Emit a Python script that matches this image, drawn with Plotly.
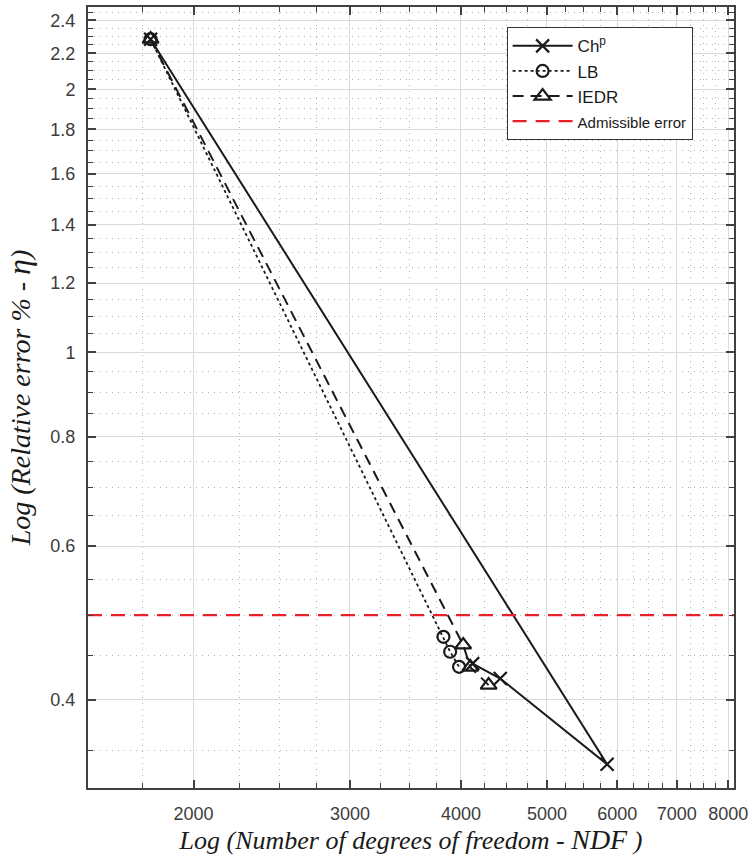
import plotly.graph_objects as go
import numpy as np

# ---- data ----
chp_ndf = [1789, 5844, 4430, 4124]
chp_err = [2.283, 0.3374, 0.4231, 0.440]

lb_ndf = [1789, 3823, 3890, 3981]
lb_err = [2.283, 0.4722, 0.4540, 0.4363]

iedr_ndf = [1789, 4024, 4099, 4298]
iedr_err = [2.283, 0.4622, 0.4360, 0.4158]

admissible_error = 0.5

x_ticks = [2000, 3000, 4000, 5000, 6000, 7000, 8000]
y_ticks = [0.4, 0.6, 0.8, 1, 1.2, 1.4, 1.6, 1.8, 2, 2.2, 2.4]

x_range = [1521, 8121]
y_range = [0.317, 2.485]

ink = "#1a1a1a"
axis_col = "#404040"

fig = go.Figure()
fig.add_trace(go.Scatter(
    x=chp_ndf, y=chp_err, name="Ch<sup>p</sup>", mode="lines+markers",
    line=dict(color=ink, width=2, dash="solid"),
    marker=dict(symbol="x-thin-open", size=13, line=dict(color=ink, width=2.2))))
fig.add_trace(go.Scatter(
    x=lb_ndf, y=lb_err, name="LB", mode="lines+markers",
    line=dict(color=ink, width=1.8, dash="dot"),
    marker=dict(symbol="circle-open", size=12, line=dict(color=ink, width=2.2))))
fig.add_trace(go.Scatter(
    x=iedr_ndf, y=iedr_err, name="IEDR", mode="lines+markers",
    line=dict(color=ink, width=2, dash="11px,7px"),
    marker=dict(symbol="triangle-up-open", size=14, line=dict(color=ink, width=2.2))))
fig.add_trace(go.Scatter(
    x=x_range, y=[admissible_error, admissible_error],
    name='<span style="font-size:15px">Admissible error</span>', mode="lines",
    line=dict(color="#e8202a", width=2.2, dash="14px,9px")))

tickfont = dict(family="Liberation Sans, Arial", size=18, color="#3c3c3c")
title_font = dict(family="Liberation Serif, Times New Roman", size=26, color=ink)

common = dict(
    type="log", showline=True, linecolor=axis_col, linewidth=2, mirror="allticks",
    ticks="inside", ticklen=8, tickcolor=axis_col, tickwidth=1.5,
    showgrid=True, gridcolor="#dadada", gridwidth=1, zeroline=False,
    tickfont=tickfont,
)

minor_common = dict(ticks="inside", ticklen=5, tickcolor=axis_col, tickwidth=1,
                    showgrid=True, gridcolor="#b4b4b4", griddash="1px,5px", gridwidth=1)

fig.update_xaxes(
    **common,
    range=[np.log10(x_range[0]), np.log10(x_range[1])],
    tickvals=x_ticks, ticktext=[str(v) for v in x_ticks],
    ticklabelstandoff=8,
    minor=dict(dtick="L250", tick0=0, **minor_common),
    title=dict(text="<i>Log (Number of degrees of freedom - </i><i><span style=\"font-size:28px\">NDF</span> )</i>",
               font=title_font, standoff=8),
)
fig.update_yaxes(
    **common,
    range=[np.log10(y_range[0]), np.log10(y_range[1])],
    tickvals=y_ticks, ticktext=[f"{v:g}" for v in y_ticks],
    ticklabelstandoff=7,
    minor=dict(dtick="L0.05", tick0=0, **minor_common),
    title=dict(text="<i>Log (Relative error % - </i><i><span style=\"font-size:32px\">η</span>)</i>",
               font=dict(family="Liberation Serif, Times New Roman", size=28, color=ink),
               standoff=12),
)

fig.update_layout(
    width=749, height=864,
    margin=dict(l=88, r=15, t=7, b=76, autoexpand=False),
    paper_bgcolor="white", plot_bgcolor="white",
    showlegend=True,
    legend=dict(x=0.648, y=0.974, xanchor="left", yanchor="top",
                bgcolor="white", bordercolor="#333333", borderwidth=1,
                font=dict(family="Liberation Sans, Arial", size=17, color=ink),
                itemwidth=60, tracegroupgap=0),
)

fig.write_html("out.html")
